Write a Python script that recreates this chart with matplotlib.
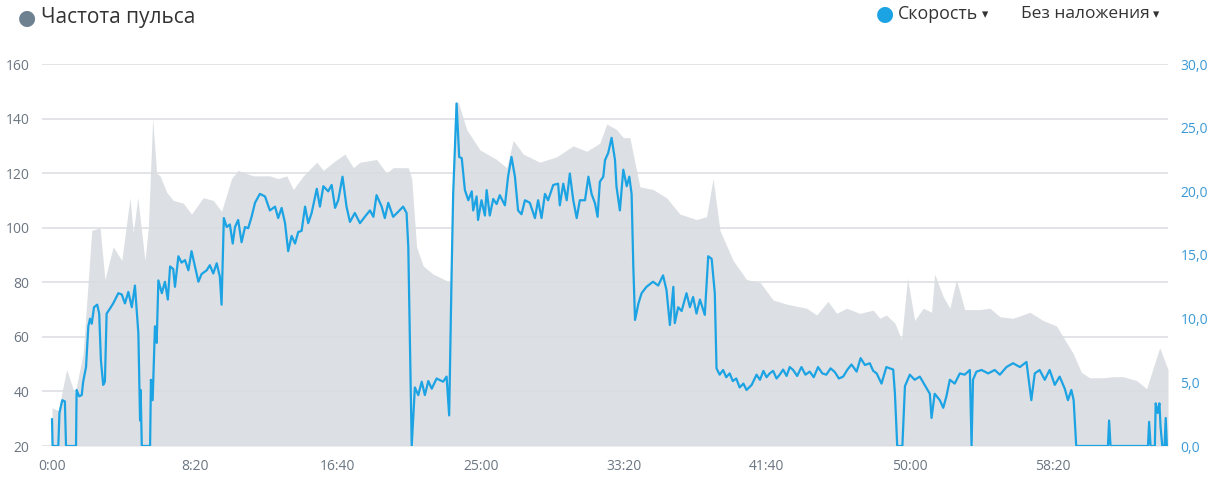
import matplotlib
matplotlib.use("Agg")
import matplotlib.pyplot as plt
from matplotlib.ticker import FuncFormatter, FixedLocator

plt.rcParams['font.family'] = ['Open Sans', 'DejaVu Sans']

# Heart rate (bpm) – time in seconds
hr_t = [0, 22, 51, 80, 109, 139, 168, 185, 214, 244, 273, 284, 300, 325, 337, 352, 366, 378,
        401, 424, 459, 488, 529, 564, 593, 628, 651, 704, 762, 791, 821, 844, 879, 926, 949,
        984, 1024, 1054, 1077, 1135, 1170, 1193, 1246, 1258, 1275, 1298, 1333, 1392, 1409,
        1421, 1450, 1497, 1555, 1590, 1613, 1648, 1706, 1765, 1823, 1870, 1916, 1940, 1974,
        1998, 2021, 2056, 2102, 2149, 2196, 2254, 2289, 2312, 2336, 2382, 2429, 2476, 2522,
        2569, 2615, 2639, 2674, 2714, 2744, 2779, 2825, 2872, 2895, 2918, 2948, 2971, 2992,
        3017, 3047, 3076, 3087, 3117, 3140, 3163, 3192, 3245, 3280, 3315, 3361, 3420, 3466,
        3513, 3536, 3571, 3600, 3629, 3676, 3711, 3746, 3793, 3828, 3874, 3903]
hr_v = [34, 33, 48, 39, 54, 99, 100, 81, 93, 88, 111, 98, 111, 88, 100, 140, 120, 119,
        113, 110, 109, 105, 111, 110, 106, 118, 121, 119, 119, 118, 119, 114, 119, 124, 121,
        124, 127, 122, 124, 125, 120, 122, 122, 118, 93, 86, 83, 80, 146,
        146, 136, 128.5, 125, 122, 132, 127, 124, 126, 130, 128, 131, 138, 136,
        133, 133, 115, 114, 111, 105, 103, 104, 118, 99, 88, 81, 80, 73.5,
        72, 71, 70.5, 68, 73, 68.6, 70.5, 68.6, 69.8, 66.8, 68, 65, 59, 81.5,
        66, 70.5, 69, 83, 74.7, 70.5, 81, 70, 70, 70.5, 67.4, 66.8, 69, 66,
        64, 60, 54, 47, 45, 45, 45.4, 45.4, 44, 41, 56, 48]

# Speed (km/h)
sp_t = [0, 2, 22, 26, 36, 45, 49, 84, 86, 95, 104, 109, 119, 127, 133, 139, 147, 158, 165,
        171, 179, 185, 191, 203, 214, 232, 244, 255, 267, 279, 290, 302, 308, 310, 314, 343,
        346, 352, 360, 366, 372, 384, 395, 405, 413, 424, 430, 442, 453, 465, 477, 488, 500,
        512, 523, 541, 552, 564, 576, 587, 593, 601, 611, 622, 632, 640, 651, 663, 675, 686,
        698, 710, 727, 745, 762, 780, 791, 803, 815, 826, 838, 850, 861, 873, 885, 896, 908,
        926, 937, 949, 966, 978, 990, 1001, 1016, 1030, 1042, 1059, 1077, 1094, 1112, 1124,
        1135, 1153, 1164, 1176, 1193, 1211, 1228, 1240, 1246, 1258, 1269, 1281, 1293, 1304,
        1316, 1328, 1345, 1368, 1380, 1389, 1398, 1403, 1415, 1424, 1433, 1444, 1456, 1468,
        1473, 1485, 1490, 1502, 1514, 1520, 1531, 1543, 1555, 1566, 1584, 1595, 1607, 1619,
        1630, 1642, 1654, 1671, 1689, 1700, 1712, 1724, 1735, 1753, 1770, 1776, 1788, 1800,
        1811, 1823, 1835, 1846, 1864, 1876, 1887, 1899, 1908, 1916, 1928, 1934, 1945, 1957,
        1969, 1974, 1986, 1998, 2010, 2019, 2027, 2033, 2039, 2051, 2062, 2079, 2102, 2120,
        2137, 2149, 2161, 2173, 2178, 2190, 2202, 2219, 2231, 2242, 2254, 2266, 2283, 2295,
        2307, 2318, 2324, 2335, 2347, 2358, 2370, 2381, 2393, 2405, 2418, 2429, 2447, 2464,
        2476, 2488, 2499, 2510, 2522, 2534, 2545, 2557, 2569, 2580,
        2592, 2606, 2621, 2635, 2650, 2664, 2679, 2694, 2708, 2723, 2738, 2752, 2767, 2782,
        2796, 2814, 2828, 2843, 2860, 2872, 2884, 2901,
        2918, 2942, 2948, 2956, 2974, 2983, 3000, 3017, 3035, 3052, 3070, 3076, 3087, 3105,
        3117, 3128, 3140, 3157, 3175, 3192, 3210, 3216, 3221, 3233, 3251, 3274, 3297, 3315,
        3338, 3361, 3385, 3408, 3425, 3437, 3454, 3472, 3489, 3507, 3524, 3542, 3553, 3565,
        3573, 3582, 3693, 3697, 3702, 3833, 3837, 3842, 3857, 3860, 3867, 3873, 3877, 3883,
        3891, 3895, 3899]
sp_v = [2.1, 0, 0, 2.6, 3.6, 3.5, 0, 0, 4.4, 3.9, 4.0, 5.05, 6.2, 9.4, 10.0, 9.6, 10.9, 11.1, 10.4,
        6.75, 4.8, 5.05, 10.4, 10.8, 11.2, 12.0, 11.9, 11.2, 12.1, 10.9, 12.6, 8.85, 2.0, 4.4, 0, 0,
        5.2, 3.6, 9.4, 8.1, 13.0, 12.0, 12.9, 11.5, 14.1, 13.9, 12.5, 14.9, 14.4, 14.6, 13.8, 15.3, 14.1,
        12.9, 13.5, 13.8, 14.2, 13.55, 14.35, 13.3, 11.1, 17.9, 17.2, 17.4, 15.9, 17.2, 17.75, 16.0, 17.2, 17.1,
        18.0, 19.1, 19.8, 19.6, 18.5, 18.8, 17.9, 18.7, 17.5, 15.3, 16.5, 15.9, 16.8, 16.9, 18.8, 17.5, 18.3,
        20.2, 18.8, 20.4, 20.0, 20.5, 18.7, 19.3, 21.15, 18.8, 17.6, 18.3, 17.5, 18.0, 18.5, 18.0,
        19.7, 18.8, 17.9, 19.1, 18.0, 18.4, 18.8, 18.3, 15.65, 0, 4.6, 4.0, 5.05, 4.0,
        5.1, 4.5, 5.3, 5.05, 5.45, 2.4, 14.1, 19.8, 26.9, 22.7, 22.6, 20.1, 19.3, 20.0,
        18.5, 19.6, 17.75, 19.3, 18.1, 20.1, 18.1, 19.4, 19.0, 19.7, 18.9, 21.15, 22.7, 21.15,
        18.5, 18.2, 19.3, 19.1, 17.9, 19.3, 17.9, 19.8, 19.3, 20.5, 20.6, 18.9, 20.6, 19.3,
        21.4, 19.3, 17.9, 19.3, 19.3, 21.15, 19.8, 19.06, 18.0, 20.75, 21.15, 22.45, 23.0, 24.2,
        22.45, 20.4, 18.5, 21.7, 20.4, 21.15, 19.8, 14.1, 9.9, 11.2, 12.0, 12.5, 12.9, 12.6,
        13.4, 12.25, 9.5, 12.5, 9.65, 10.9, 10.6, 12.0, 10.9, 11.7, 10.4, 11.5, 10.3, 14.9,
        14.7, 12.0, 6.1, 5.6, 5.97, 5.4, 5.7, 5.1, 5.3, 4.6, 4.9, 4.4, 4.8, 5.6,
        5.2, 5.9, 5.4, 5.7, 5.9, 5.3, 5.6, 6.0, 5.5, 6.2,
        5.97, 5.5, 6.2, 5.6, 5.84, 5.4, 6.2, 5.7, 5.6, 6.1, 5.8, 5.3, 5.45, 6.0,
        6.4, 5.84, 6.9, 6.36, 6.5, 5.9, 5.7, 4.9,
        6.2, 6.0, 4.1, 0, 0, 4.7, 5.6, 5.2, 5.45, 4.8, 4.1, 2.2, 4.1, 3.6,
        3.0, 3.9, 5.2, 4.9, 5.7, 5.6, 5.97, 0, 5.2, 5.84, 5.97, 5.7, 5.97, 5.6,
        6.2, 6.5, 6.2, 6.6, 3.6, 5.7, 5.97, 5.2, 5.97, 4.8, 5.45, 4.5, 3.6, 4.4,
        3.6, 0, 0, 2.0, 0, 0, 1.9, 0, 0, 3.35, 2.6, 3.35, 1.5, 0,
        0, 2.2, 0]

hr_ticks = [20, 40, 60, 80, 100, 120, 140, 160]
sp_ticks = [0, 5, 10, 15, 20, 25, 30]
x_ticks = [0, 500, 1000, 1500, 2000, 2500, 3000, 3500]

W, H = 1211, 479
fig = plt.figure(figsize=(W / 100, H / 100), dpi=100)
L, R, B, T = 42, 1168, 446, 64
ax = fig.add_axes([L / W, (H - B) / H, (R - L) / W, (B - T) / H])

gray_txt = '#6b7682'
blue = '#1ca3e3'

ax.fill_between(hr_t, hr_v, 20, color='#dcdfe3', lw=0, zorder=1)
ax.set_xlim(-35, 3903)
ax.set_ylim(20, 160)
ax.yaxis.set_major_locator(FixedLocator(hr_ticks))
ax.xaxis.set_major_locator(FixedLocator(x_ticks))
ax.xaxis.set_major_formatter(FuncFormatter(lambda v, p: f"{int(v)//60}:{int(v)%60:02d}"))
for y in hr_ticks:
    ax.axhline(y, color='#dadde0', lw=1.1, zorder=2)
for s in ax.spines.values():
    s.set_visible(False)
ax.tick_params(axis='both', length=0, labelsize=10, colors=gray_txt)
ax.tick_params(axis='y', pad=9)
ax.tick_params(axis='x', pad=9)

ax2 = ax.twinx()
ax2.plot(sp_t, sp_v, color=blue, lw=1.6, zorder=3, solid_joinstyle='round')
ax2.set_ylim(0, 30)
ax2.set_xlim(-35, 3903)
ax2.yaxis.set_major_locator(FixedLocator(sp_ticks))
ax2.yaxis.set_major_formatter(FuncFormatter(lambda v, p: f"{v:.1f}".replace('.', ',')))
for s in ax2.spines.values():
    s.set_visible(False)
ax2.tick_params(axis='y', length=0, labelsize=10, colors='#3a9ad6', pad=9)

# Header texts
fig.text(27 / W, 1 - 18 / H, '●', color='#6e8191', fontsize=15, va='center', ha='center',
         family=['DejaVu Sans'])
fig.text(41 / W, 1 - 18 / H, 'Частота пульса', color='#333333', fontsize=15, va='center', ha='left')
fig.text(885 / W, 1 - 14 / H, '●', color='#1ca3e3', fontsize=15, va='center', ha='center',
         family=['DejaVu Sans'])
fig.text(898 / W, 1 - 14 / H, 'Скорость', color='#333333', fontsize=12.8, va='center', ha='left')
fig.text(982 / W, 1 - 15 / H, '▾', color='#333333', fontsize=9, va='center', ha='left',
         family=['DejaVu Sans'])
fig.text(1021 / W, 1 - 14 / H, 'Без наложения', color='#333333', fontsize=12.5, va='center', ha='left')
fig.text(1153 / W, 1 - 15 / H, '▾', color='#333333', fontsize=9, va='center', ha='left',
         family=['DejaVu Sans'])

fig.savefig('out.png', dpi=100)
